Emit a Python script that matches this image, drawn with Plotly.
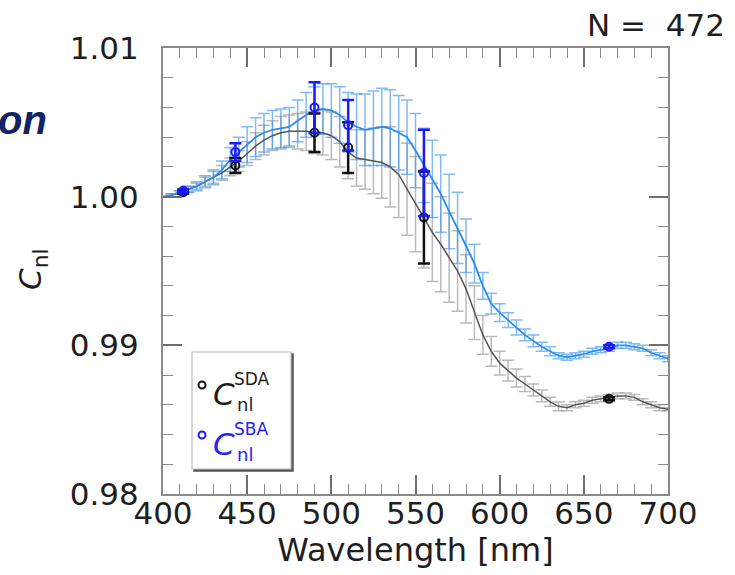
import plotly.graph_objects as go

# ---------------- data ----------------
wavelength = [400, 405, 410, 415, 420, 425, 430, 435, 440, 445, 450, 455, 460, 465, 470,
              475, 480, 485, 490, 495, 500, 505, 510, 515, 520, 525, 530, 535, 540, 545,
              550, 555, 560, 565, 570, 575, 580, 585, 590, 595, 600, 605, 610, 615, 620,
              625, 630, 635, 640, 645, 650, 655, 660, 665, 670, 675, 680, 685, 690, 695, 700]

sda_mean = [1.0000, 1.0001, 1.0003, 1.0005, 1.0007, 1.0010, 1.0013, 1.0016, 1.0020, 1.0024,
            1.0029, 1.0034, 1.0038, 1.0041, 1.0043, 1.0044, 1.0044, 1.0044, 1.0043, 1.0043,
            1.0041, 1.0037, 1.0030, 1.0026, 1.0025, 1.0024, 1.0023, 1.0020, 1.0015, 1.0005,
            0.9995, 0.9985, 0.9976, 0.9968, 0.9959, 0.9950, 0.9938, 0.9922, 0.9907, 0.9896,
            0.9888, 0.9883, 0.9878, 0.9874, 0.9870, 0.9866, 0.9862, 0.9859, 0.9858, 0.9860,
            0.9861, 0.9863, 0.9864, 0.9865, 0.9866, 0.9866, 0.9865, 0.9862, 0.9860, 0.9858, 0.9857]

sda_std = [0.0000, 0.0001, 0.0001, 0.0002, 0.0002, 0.0003, 0.0004, 0.0005, 0.0006, 0.0007,
           0.0008, 0.0009, 0.0010, 0.0010, 0.0011, 0.0011, 0.0012, 0.0013, 0.0014, 0.0015,
           0.0016, 0.0017, 0.0018, 0.0019, 0.0020, 0.0022, 0.0024, 0.0027, 0.0029, 0.0031,
           0.0032, 0.0033, 0.0033, 0.0032, 0.0030, 0.0027, 0.0023, 0.0018, 0.0013, 0.0010,
           0.0008, 0.0007, 0.0006, 0.0005, 0.0004, 0.0004, 0.0003, 0.0003, 0.0002, 0.0002,
           0.0002, 0.0002, 0.0002, 0.0002, 0.0002, 0.0002, 0.0002, 0.0002, 0.0002, 0.0002, 0.0001]

sba_mean = [1.0000, 1.0001, 1.0003, 1.0005, 1.0007, 1.0010, 1.0013, 1.0018, 1.0025, 1.0030,
            1.0035, 1.0040, 1.0043, 1.0045, 1.0046, 1.0047, 1.0051, 1.0055, 1.0058, 1.0059,
            1.0058, 1.0055, 1.0050, 1.0047, 1.0045, 1.0046, 1.0047, 1.0046, 1.0043, 1.0040,
            1.0031, 1.0021, 1.0012, 1.0002, 0.9990, 0.9979, 0.9967, 0.9955, 0.9940, 0.9928,
            0.9922, 0.9917, 0.9912, 0.9907, 0.9903, 0.9899, 0.9896, 0.9893, 0.9892, 0.9893,
            0.9894, 0.9896, 0.9897, 0.9898, 0.9900, 0.9900, 0.9899, 0.9898, 0.9895, 0.9893, 0.9891]

sba_std = [0.0000, 0.0001, 0.0001, 0.0002, 0.0003, 0.0004, 0.0005, 0.0006, 0.0008, 0.0010,
           0.0012, 0.0013, 0.0013, 0.0013, 0.0013, 0.0013, 0.0014, 0.0015, 0.0016, 0.0017,
           0.0018, 0.0019, 0.0020, 0.0022, 0.0024, 0.0025, 0.0026, 0.0026, 0.0025, 0.0025,
           0.0025, 0.0025, 0.0026, 0.0026, 0.0025, 0.0024, 0.0018, 0.0013, 0.0009, 0.0007,
           0.0006, 0.0005, 0.0005, 0.0004, 0.0004, 0.0003, 0.0003, 0.0002, 0.0002, 0.0002,
           0.0002, 0.0002, 0.0002, 0.0002, 0.0002, 0.0002, 0.0002, 0.0002, 0.0002, 0.0002, 0.0002]

band_wl = [412, 443, 490, 510, 555, 665]
sda_band = [1.0003, 1.0021, 1.0043, 1.0033, 0.9986, 0.9864]
sda_band_err = [0.0001, 0.0005, 0.0013, 0.0017, 0.0031, 0.0001]
sba_band = [1.0004, 1.0030, 1.0060, 1.0048, 1.0016, 0.9899]
sba_band_err = [0.0001, 0.0006, 0.0017, 0.0017, 0.0029, 0.0001]

x_ticks = [400, 450, 500, 550, 600, 650, 700]
y_ticks = [0.98, 0.99, 1.00, 1.01]
y_tick_labels = ["0.98", "0.99", "1.00", "1.01"]
n_label = "N =\u00a0\u00a0472"

FONT = "DejaVu Sans"
W, H = 735, 575
L, R, T, B = 163, 67, 48, 81
PW, PH = W - L - R, H - T - B


def px(xp):
    return (xp - L) / PW


def py(yp):
    return 1 - (yp - T) / PH


fig = go.Figure()

# spread error bars
fig.add_trace(go.Scatter(
    x=wavelength, y=sda_mean, mode="markers",
    marker=dict(size=1, color="rgba(0,0,0,0)"),
    error_y=dict(type="data", array=sda_std, color="rgba(140,140,140,0.6)", thickness=1.5, width=6),
    showlegend=False, hoverinfo="skip"))
fig.add_trace(go.Scatter(
    x=wavelength, y=sba_mean, mode="markers",
    marker=dict(size=1, color="rgba(0,0,0,0)"),
    error_y=dict(type="data", array=sba_std, color="rgba(60,150,245,0.65)", thickness=1.5, width=6),
    showlegend=False, hoverinfo="skip"))

# mean lines
fig.add_trace(go.Scatter(x=wavelength, y=sda_mean, mode="lines",
                         line=dict(color="#555555", width=1.5), showlegend=False))
fig.add_trace(go.Scatter(x=wavelength, y=sba_mean, mode="lines",
                         line=dict(color="#2a8cf0", width=1.8), showlegend=False))

# band measurements
fig.add_trace(go.Scatter(
    x=band_wl, y=sda_band, mode="markers",
    marker=dict(symbol="circle-open", size=8, color="#111111", line=dict(width=2)),
    error_y=dict(type="data", array=sda_band_err, color="#111111", thickness=2.5, width=6),
    showlegend=False))
fig.add_trace(go.Scatter(
    x=band_wl, y=sba_band, mode="markers",
    marker=dict(symbol="circle-open", size=8, color="#1a1aff", line=dict(width=2)),
    error_y=dict(type="data", array=sba_band_err, color="#1a1aff", thickness=2.5, width=6),
    showlegend=False))

axis_col = "#8a8a8a"
fig.update_xaxes(
    range=[400, 700], tickmode="array", tickvals=x_ticks, ticktext=[str(v) for v in x_ticks],
    ticks="inside", ticklen=19, tickwidth=1.5, tickcolor="#6e6e6e",
    minor=dict(tickmode="linear", tick0=400, dtick=10, ticks="inside", ticklen=10,
               tickwidth=1.2, tickcolor="#8a8a8a"),
    showline=True, linecolor=axis_col, linewidth=2, mirror="allticks",
    showgrid=False, zeroline=False, ticklabelstandoff=-9,
    tickfont=dict(family=FONT, size=31, color="#1e1e1e"),
    title=dict(text="Wavelength [nm]", font=dict(family=FONT, size=32, color="#1e1e1e"), standoff=6))
fig.update_yaxes(
    range=[0.98, 1.01], tickmode="array", tickvals=y_ticks, ticktext=y_tick_labels,
    ticks="inside", ticklen=19, tickwidth=1.5, tickcolor="#6e6e6e",
    minor=dict(tickmode="linear", tick0=0.98, dtick=0.002, ticks="inside", ticklen=10,
               tickwidth=1.2, tickcolor="#8a8a8a"),
    showline=True, linecolor=axis_col, linewidth=2, mirror="allticks",
    showgrid=False, zeroline=False, ticklabelstandoff=16,
    tickfont=dict(family=FONT, size=31, color="#1e1e1e"))

annotations = [
    dict(text=n_label, x=px(727), y=py(25), xref="paper", yref="paper",
         xanchor="right", yanchor="middle", showarrow=False,
         font=dict(family=FONT, size=31, color="#1e1e1e")),
    dict(text="<b><i>on</i></b>", x=px(49), y=py(120), xref="paper", yref="paper",
         xanchor="right", yanchor="middle", showarrow=False,
         font=dict(family="Liberation Sans", size=40, color="#0f2366")),
    dict(text="<i>C</i><sub>nl</sub>", x=px(32), y=py(270), xref="paper", yref="paper",
         xanchor="center", yanchor="middle", textangle=-90, showarrow=False,
         font=dict(family=FONT, size=31, color="#1e1e1e")),
]

# legend (drawn manually to stack super/subscripts)
shapes = [
    dict(type="rect", xref="paper", yref="paper", x0=px(194), x1=px(293), y0=py(471), y1=py(354),
         line=dict(color="#555555", width=1.5), fillcolor="#555555", layer="above"),
    dict(type="rect", xref="paper", yref="paper", x0=px(192), x1=px(291), y0=py(469), y1=py(352),
         line=dict(color="#bdbdbd", width=1.2), fillcolor="white", layer="above"),
]
legend_items = [("SDA", "#1e1e1e", "#111111", 385), ("SBA", "#2222ff", "#1a1aff", 435)]
for sup, tcol, mcol, yc in legend_items:
    shapes.append(dict(type="circle", xref="paper", yref="paper",
                       x0=px(198.5), x1=px(205.5), y0=py(yc + 3.5), y1=py(yc - 3.5),
                       line=dict(color=mcol, width=2), layer="above"))
    annotations.append(dict(text="<i>C</i>", x=px(211), y=py(yc + 9), xref="paper", yref="paper",
                            xanchor="left", yanchor="middle", showarrow=False,
                            font=dict(family=FONT, size=31, color=tcol)))
    annotations.append(dict(text=sup, x=px(232), y=py(yc - 6), xref="paper", yref="paper",
                            xanchor="left", yanchor="middle", showarrow=False,
                            font=dict(family=FONT, size=17, color=tcol)))
    annotations.append(dict(text="nl", x=px(235), y=py(yc + 19), xref="paper", yref="paper",
                            xanchor="left", yanchor="middle", showarrow=False,
                            font=dict(family=FONT, size=18, color=tcol)))

fig.update_layout(
    width=W, height=H, margin=dict(l=L, r=R, t=T, b=B, pad=0),
    paper_bgcolor="white", plot_bgcolor="white",
    annotations=annotations, shapes=shapes, showlegend=False,
)

fig.write_html("out.html")
